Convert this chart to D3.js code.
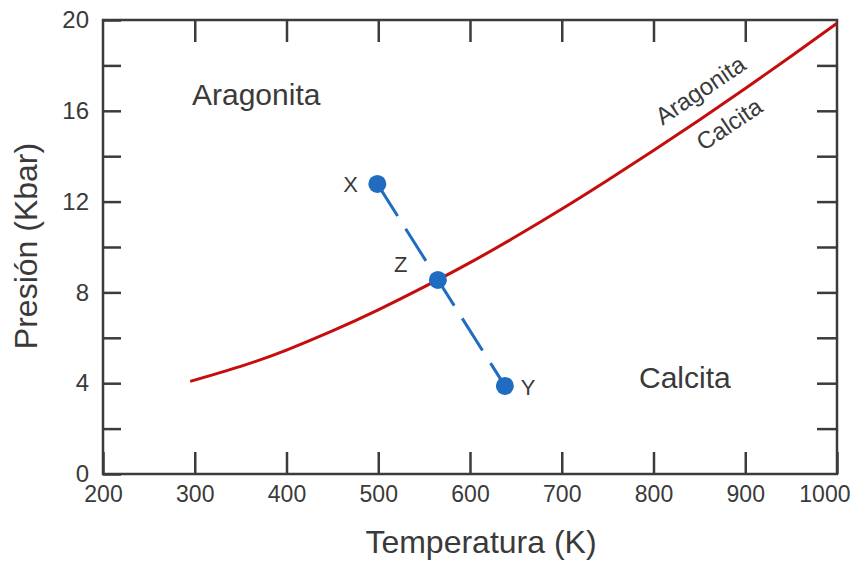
<!DOCTYPE html>
<html><head><meta charset="utf-8">
<script src="https://cdn.jsdelivr.net/npm/d3@7"></script>
<style>
html,body{margin:0;padding:0;background:#fff;}
svg{display:block;font-family:"Liberation Sans",Arial,Helvetica,sans-serif;}
</style></head>
<body><svg id="c" width="856" height="564"></svg>
<script>
// Phase boundary (Aragonita / Calcita)
const boundaryT = [295, 350, 400, 450, 500, 550, 600, 650, 700, 750, 800, 850, 900, 950, 1000];
const boundaryP = [4.08, 4.74, 5.46, 6.3, 7.23, 8.24, 9.31, 10.46, 11.67, 12.94, 14.25, 15.6, 16.98, 18.4, 19.86];
// Path points X -> Z -> Y
const pointNames = ["X", "Z", "Y"];
const pointT = [499, 565, 638];
const pointP = [12.78, 8.55, 3.88];
// Axis ticks
const xTicks = [200, 300, 400, 500, 600, 700, 800, 900, 1000];
const yTicks = [0, 2, 4, 6, 8, 10, 12, 14, 16, 18, 20];
const yLabelTicks = [0, 4, 8, 12, 16, 20];

(function () {
const svg = d3.select("#c");
const mL = 103, mR = 837, mT = 20, mB = 474;
const x = d3.scaleLinear().domain([200, 1000]).range([mL, mR]);
const y = d3.scaleLinear().domain([0, 20]).range([mB, mT]);
const axisColor = "#3b3b3b", textColor = "#3a3a3a";

const gx = svg.append("g").attr("transform", `translate(0,${mB})`)
  .call(d3.axisBottom(x).tickValues(xTicks).tickSizeInner(-22).tickSizeOuter(0).tickPadding(12).tickFormat(d3.format("d")));
const gxt = svg.append("g").attr("transform", `translate(0,${mT})`)
  .call(d3.axisTop(x).tickValues(xTicks.slice(1, -1)).tickSizeInner(-22).tickSizeOuter(0).tickFormat(""));
const gy = svg.append("g").attr("transform", `translate(${mL},0)`)
  .call(d3.axisLeft(y).tickValues(yTicks).tickSizeInner(-18).tickSizeOuter(0).tickPadding(14)
    .tickFormat(d => yLabelTicks.includes(d) ? d3.format("d")(d) : ""));
const gyr = svg.append("g").attr("transform", `translate(${mR},0)`)
  .call(d3.axisRight(y).tickValues(yTicks.slice(1, -1)).tickSizeInner(-20).tickSizeOuter(0).tickFormat(""));

[gx, gxt, gy, gyr].forEach(g => {
  g.select(".domain").remove();
  g.selectAll(".tick line").attr("stroke", axisColor).attr("stroke-width", 2.5);
  g.selectAll(".tick text").attr("fill", textColor).attr("font-size", 23)
    .attr("font-family", "Liberation Sans, Arial, sans-serif");
});
gy.selectAll(".tick text").attr("font-size", 24);
gx.selectAll(".tick text").filter(d => d === 1000).attr("text-anchor", "end").attr("dx", 13);

svg.append("rect").attr("x", mL).attr("y", mT).attr("width", mR - mL).attr("height", mB - mT)
  .attr("fill", "none").attr("stroke", axisColor).attr("stroke-width", 2.5);

const bdata = boundaryT.map((t, i) => [t, boundaryP[i]]);
svg.append("path").datum(bdata)
  .attr("d", d3.line().x(d => x(d[0])).y(d => y(d[1])).curve(d3.curveNatural))
  .attr("fill", "none").attr("stroke", "#c40d0d").attr("stroke-width", 3);

const pdata = pointT.map((t, i) => ({name: pointNames[i], t, p: pointP[i]}));
svg.append("path").datum([pdata[0], pdata[2]])
  .attr("d", d3.line().x(d => x(d.t)).y(d => y(d.p)))
  .attr("fill", "none").attr("stroke", "#1f6cc0").attr("stroke-width", 3).attr("stroke-dasharray", "38,15");
svg.selectAll("circle.pt").data(pdata).enter().append("circle")
  .attr("cx", d => x(d.t)).attr("cy", d => y(d.p)).attr("r", 9).attr("fill", "#1f6cc0");
const labOff = {X: [-34, 8], Z: [-44, -8], Y: [16, 9]};
svg.selectAll("text.pl").data(pdata).enter().append("text")
  .attr("x", d => x(d.t) + labOff[d.name][0]).attr("y", d => y(d.p) + labOff[d.name][1])
  .attr("font-size", 22).attr("fill", textColor).text(d => d.name);

svg.append("text").attr("x", 192).attr("y", 105).attr("font-size", 30).attr("fill", textColor).text("Aragonita");
svg.append("text").attr("x", 639).attr("y", 388).attr("font-size", 30).attr("fill", textColor).text("Calcita");
svg.append("text").attr("transform", "translate(705,97) rotate(-34)").attr("text-anchor", "middle")
  .attr("font-size", 24).attr("fill", textColor).text("Aragonita");
svg.append("text").attr("transform", "translate(734,131) rotate(-34)").attr("text-anchor", "middle")
  .attr("font-size", 24).attr("fill", textColor).text("Calcita");

svg.append("text").attr("x", 481).attr("y", 553).attr("text-anchor", "middle")
  .attr("font-size", 32).attr("fill", textColor).text("Temperatura (K)");
svg.append("text").attr("transform", "translate(37,246) rotate(-90)").attr("text-anchor", "middle")
  .attr("font-size", 32).attr("fill", textColor).text("Presión (Kbar)");
})();
</script></body></html>
